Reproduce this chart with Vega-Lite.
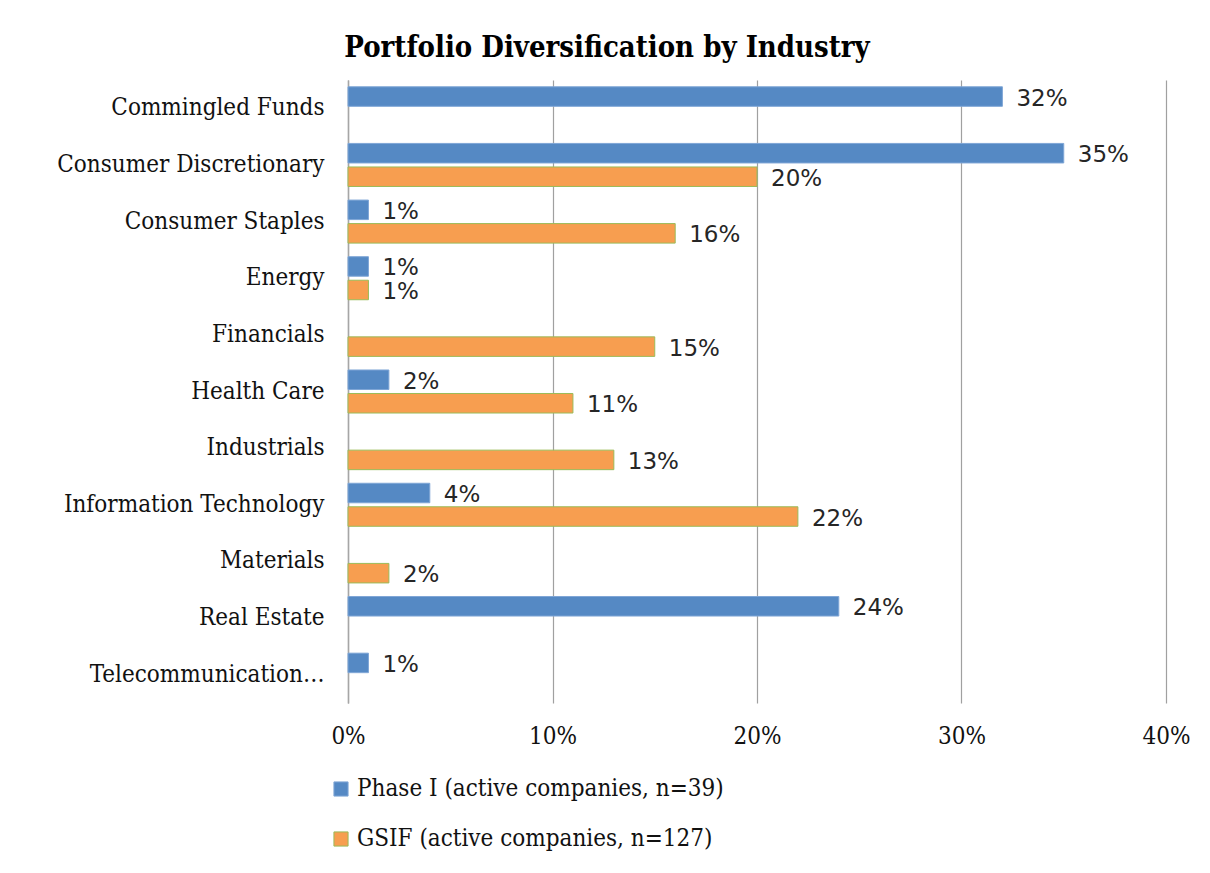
{
  "$schema": "https://vega.github.io/schema/vega-lite/v6.json",
  "width": 818,
  "height": 623,
  "autosize": {"type": "none"},
  "padding": {"left": 348, "top": 80, "right": 44, "bottom": 170},
  "background": "white",
  "title": {
    "text": "Portfolio Diversification by Industry",
    "font": "DejaVu Serif Condensed, DejaVu Serif",
    "fontSize": 29,
    "fontWeight": "bold",
    "color": "#000000",
    "anchor": "middle",
    "dx": -150,
    "offset": 17
  },
  "data": {
    "values": [
      {"industry": "Commingled Funds", "series": "Phase I (active companies, n=39)", "value": 0.32},
      {"industry": "Consumer Discretionary", "series": "Phase I (active companies, n=39)", "value": 0.35},
      {"industry": "Consumer Discretionary", "series": "GSIF (active companies, n=127)", "value": 0.20},
      {"industry": "Consumer Staples", "series": "Phase I (active companies, n=39)", "value": 0.01},
      {"industry": "Consumer Staples", "series": "GSIF (active companies, n=127)", "value": 0.16},
      {"industry": "Energy", "series": "Phase I (active companies, n=39)", "value": 0.01},
      {"industry": "Energy", "series": "GSIF (active companies, n=127)", "value": 0.01},
      {"industry": "Financials", "series": "GSIF (active companies, n=127)", "value": 0.15},
      {"industry": "Health Care", "series": "Phase I (active companies, n=39)", "value": 0.02},
      {"industry": "Health Care", "series": "GSIF (active companies, n=127)", "value": 0.11},
      {"industry": "Industrials", "series": "GSIF (active companies, n=127)", "value": 0.13},
      {"industry": "Information Technology", "series": "Phase I (active companies, n=39)", "value": 0.04},
      {"industry": "Information Technology", "series": "GSIF (active companies, n=127)", "value": 0.22},
      {"industry": "Materials", "series": "GSIF (active companies, n=127)", "value": 0.02},
      {"industry": "Real Estate", "series": "Phase I (active companies, n=39)", "value": 0.24},
      {"industry": "Telecommunication Services", "series": "Phase I (active companies, n=39)", "value": 0.01}
    ]
  },
  "encoding": {
    "y": {
      "field": "industry",
      "type": "nominal",
      "sort": ["Commingled Funds", "Consumer Discretionary", "Consumer Staples", "Energy", "Financials", "Health Care", "Industrials", "Information Technology", "Materials", "Real Estate", "Telecommunication Services"],
      "scale": {"paddingInner": 0.24, "paddingOuter": 0.12},
      "axis": {
        "title": null,
        "labelFont": "DejaVu Serif Condensed, DejaVu Serif",
        "labelFontSize": 24,
        "labelColor": "#111111",
        "labelPadding": 24,
        "labelLimit": 400,
        "labelExpr": "datum.value == 'Telecommunication Services' ? 'Telecommunication…' : datum.value",
        "ticks": false,
        "domain": true,
        "domainColor": "#A6A6A6",
        "domainWidth": 1.5,
        "grid": false
      }
    },
    "yOffset": {
      "field": "series",
      "type": "nominal",
      "sort": ["Phase I (active companies, n=39)", "GSIF (active companies, n=127)"],
      "scale": {"domain": ["Phase I (active companies, n=39)", "GSIF (active companies, n=127)"], "paddingInner": 0.17, "paddingOuter": 0}
    },
    "x": {
      "field": "value",
      "type": "quantitative",
      "scale": {"domain": [0, 0.4], "nice": false},
      "axis": {
        "title": null,
        "format": ".0%",
        "values": [0, 0.1, 0.2, 0.3, 0.4],
        "labelFont": "DejaVu Serif Condensed, DejaVu Serif",
        "labelFontSize": 24,
        "labelColor": "#111111",
        "labelPadding": 21,
        "labelFlush": false,
        "ticks": false,
        "domain": false,
        "grid": true,
        "gridColor": "#A0A0A0",
        "gridWidth": 1.2
      }
    }
  },
  "layer": [
    {
      "mark": {"type": "bar", "strokeWidth": 1},
      "encoding": {
        "color": {
          "field": "series",
          "type": "nominal",
          "scale": {"domain": ["Phase I (active companies, n=39)", "GSIF (active companies, n=127)"], "range": ["#5589C4", "#F79E50"]},
          "legend": {
            "title": null,
            "orient": "none",
            "legendX": -19,
            "legendY": 697,
            "direction": "vertical",
            "labelFont": "DejaVu Serif Condensed, DejaVu Serif",
            "labelFontSize": 24,
            "labelColor": "#111111",
            "labelLimit": 600,
            "labelOffset": 4,
            "symbolType": "square",
            "symbolSize": 200,
            "symbolStrokeWidth": 1,
            "rowPadding": 26
          }
        },
        "stroke": {
          "field": "series",
          "type": "nominal",
          "scale": {"domain": ["Phase I (active companies, n=39)", "GSIF (active companies, n=127)"], "range": ["#7FA6D6", "#9BBB59"]},
          "legend": {
            "title": null,
            "orient": "none",
            "legendX": -19,
            "legendY": 697,
            "direction": "vertical",
            "labelFont": "DejaVu Serif Condensed, DejaVu Serif",
            "labelFontSize": 24,
            "labelColor": "#111111",
            "labelLimit": 600,
            "labelOffset": 4,
            "symbolType": "square",
            "symbolSize": 200,
            "symbolStrokeWidth": 1,
            "rowPadding": 26
          }
        }
      }
    },
    {
      "mark": {"type": "text", "align": "left", "baseline": "middle", "dx": 14, "dy": 2, "font": "DejaVu Sans", "fontSize": 23, "color": "#262626"},
      "encoding": {
        "text": {"field": "value", "type": "quantitative", "format": ".0%"}
      }
    }
  ],
  "config": {
    "view": {"stroke": null}
  }
}
